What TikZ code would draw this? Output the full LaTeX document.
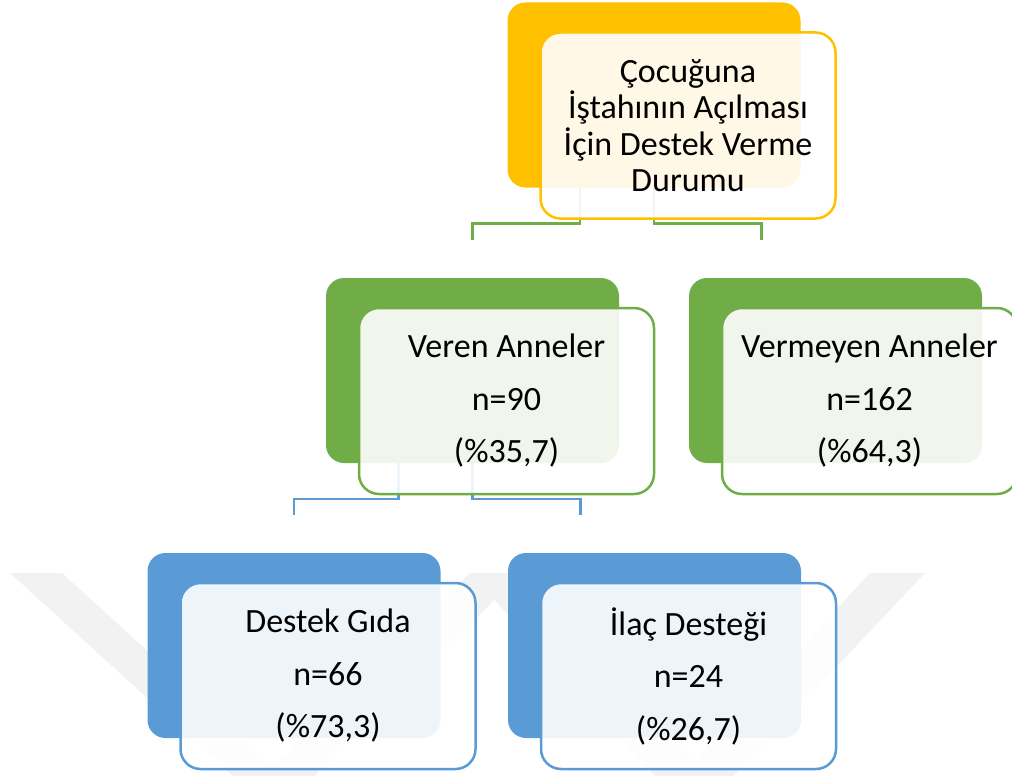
\documentclass[tikz,border=0pt]{standalone}
\usepackage{fontspec}
\setmainfont{Carlito}
\usetikzlibrary{calc,positioning}
\definecolor{orng}{HTML}{FFC000}
\definecolor{grn}{HTML}{70AD47}
\definecolor{blu}{HTML}{5B9BD5}
\tikzset{
  backbox/.style  = {rectangle, rounded corners=18pt, fill=#1, inner sep=0pt,
                     minimum width=293pt, minimum height=185pt},
  frontbox/.style = {rectangle, rounded corners=20pt, draw=#1, line width=2.5pt,
                     fill=white, fill opacity=0.9, text opacity=1, inner sep=0pt,
                     minimum width=295pt, minimum height=186pt, align=center,
                     font=\fontsize{34}{52.5}\selectfont},
  conn/.style     = {draw=#1, line width=2.5pt},
  wmark/.style    = {fill=black!5},
}

\begin{document}
\begin{tikzpicture}[x=1pt,y=-1pt]
 \useasboundingbox (0,0) rectangle (1012,776);
 % watermark
 \begin{scope}
   \clip (0,0) rectangle (1012,776);
   \fill[wmark] (10,573) -- (62,573) -- (300,790) -- (248,790) -- cycle;
   \fill[wmark] (470,573) -- (522,573) -- (300,790) -- (248,790) -- cycle;
   \fill[wmark] (470,573) -- (522,573) -- (720,790) -- (668,790) -- cycle;
   \fill[wmark] (870,573) -- (925,573) -- (720,790) -- (668,790) -- cycle;
 \end{scope}
 % back boxes
 \node[backbox=orng] (topb) at (654,95) {};
 \node[backbox=grn]  (verb) at (472.5,370.5) {};
 \node[backbox=grn]  (vrmb) at (835.5,370.5) {};
 \node[backbox=blu]  (dgb)  at (294,645.5) {};
 \node[backbox=blu]  (ilb)  at (654.5,645.5) {};
 % connectors
 \draw[conn=grn] ([xshift=-74pt]topb.south) -- ++(0,36) -| ([yshift=38pt]verb.north);
 \draw[conn=grn] (topb.south) -- ++(0,36) -| ([xshift=-74pt,yshift=38pt]vrmb.north);
 \draw[conn=blu] ([xshift=-74pt]verb.south) -- ++(0,36) -| ([yshift=38pt]dgb.north);
 \draw[conn=blu] (verb.south) -- ++(0,36) -| ([xshift=-74pt,yshift=38pt]ilb.north);
 % front boxes
 \node[frontbox=orng, font=\fontsize{34}{36.5}\selectfont] (top) at ([shift={(34,30.5)}]topb.center)
   {Çocuğuna\\İştahının Açılması\\İçin Destek Verme\\Durumu};
 \node[frontbox=grn] (veren) at ([shift={(34,30.5)}]verb.center)
   {Veren Anneler\\n=90\\(\%35,7)};
 \node[frontbox=grn] (vermeyen) at ([shift={(34,30.5)}]vrmb.center)
   {Vermeyen Anneler\\n=162\\(\%64,3)};
 \node[frontbox=blu] (gida) at ([shift={(34,30.5)}]dgb.center)
   {Destek Gıda\\n=66\\(\%73,3)};
 \node[frontbox=blu] (ilac) at ([shift={(34,30.5)}]ilb.center)
   {İlaç Desteği\\n=24\\(\%26,7)};
\end{tikzpicture}
\end{document}
